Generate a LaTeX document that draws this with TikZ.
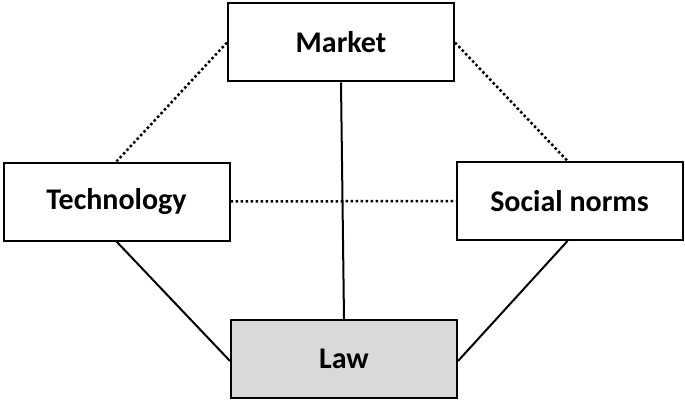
\documentclass[tikz,border=0pt]{standalone}
\usepackage{fontspec}
\setmainfont{Carlito}
\begin{document}
\begin{tikzpicture}[x=1pt,y=-1pt,
  box/.style={draw,line width=2pt,minimum width=226pt,minimum height=78pt,inner sep=0pt,font=\bfseries\fontsize{30}{34}\selectfont},
  solidline/.style={line width=2pt},
  dotline/.style={line width=2.5pt,dash pattern=on 2.5pt off 2.5pt}]
\useasboundingbox (0,0) rectangle (685,401);
\node[box] (m) at (341,42.5) {Market};
\node[box] (t) at (116.5,201.5) {Technology};
\node[box] (s) at (569.5,201) {Social norms};
\node[box,fill=black!15] (l) at (344,359) {Law};
\draw[solidline] (m.south) -- (l.north);
\draw[solidline] (t.south) -- ([yshift=-2pt]l.west);
\draw[solidline] ([xshift=-2pt]s.south) -- ([yshift=-2pt]l.east);
\draw[dotline] (m.west) -- (t.north);
\draw[dotline] (m.east) -- ([xshift=-2pt]s.north);
\draw[dotline] (t.east) -- (s.west);
\end{tikzpicture}
\end{document}
